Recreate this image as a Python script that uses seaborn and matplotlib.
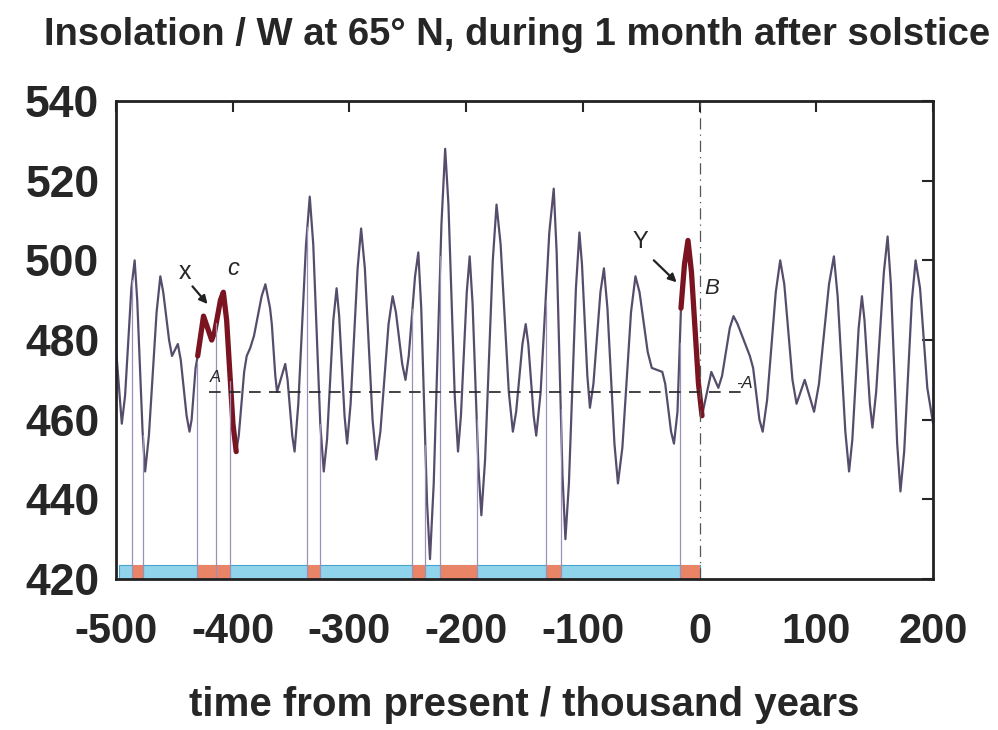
import numpy as np
import pandas as pd
import seaborn as sns
import matplotlib
matplotlib.use('Agg')
import matplotlib.pyplot as plt

# insolation curve (thousand years, W)
years = [-500, -495, -492.2, -486.8, -484, -481.8, -477.2, -475, -471.8, -465.2,
         -462, -459.5, -454.5, -452, -447, -444.5, -439.5, -437, -435.2, -431.8,
         -430, -427.5, -425, -418, -415.5, -410.5, -408, -405.2, -399.8, -397,
         -394.8, -390.2, -388, -385, -381.8, -375.2, -372, -368, -366.5, -363.5,
         -362, -355, -353, -349, -347, -343.8, -337.2, -334, -331, -325,
         -322, -319.2, -313.8, -311, -308.8, -304.2, -302, -299, -293, -290,
         -286.8, -280.2, -277, -273.5, -266.5, -263, -260.2, -254.8, -252, -249.2,
         -243.8, -241, -238.5, -233.5, -231, -227.8, -221.2, -218, -215.2, -209.8,
         -207, -204.5, -199.5, -197, -194.5, -189.5, -187, -183.8, -177.2, -174,
         -170.5, -163.5, -160, -157.2, -151.8, -149, -146.8, -142.2, -140, -136.2,
         -128.8, -125, -122.5, -117.5, -115, -112, -106, -103, -100.8, -96.2,
         -94, -91, -85, -82, -79, -73, -70, -66.2, -58.8, -55,
         -51.5, -44.5, -41, -32, -29.5, -24.5, -22, -19, -16, -13,
         -10, -7, -1, 2, 10, 16, 19.2, 25.8, 29, 32.5,
         43, 45.8, 51.2, 54, 57.8, 65.2, 69, 72.5, 79.5, 83,
         90, 98, 102.2, 110.8, 115, 118.2, 124.8, 128, 130.8, 136.2,
         139, 141.2, 145.8, 148, 151.2, 157.8, 161, 163.8, 169.2, 172,
         175.2, 181.8, 185, 188.8, 195, 200]
insol = [478, 459, 466, 493, 500, 490, 457, 447, 456, 487,
         496, 492, 480, 476, 479, 475, 461, 457, 460, 473,
         476, 481, 486, 480, 482, 490, 492, 485, 459, 452,
         456, 472, 476, 478, 481, 491, 494, 488, 484, 471,
         467, 474, 470, 456, 452, 464, 504, 516, 504, 459,
         447, 455, 485, 493, 486, 461, 454, 464, 498, 508,
         498, 460, 450, 457, 484, 491, 487, 474, 470, 476,
         496, 502, 488, 439, 425, 444, 509, 528, 514, 466,
         452, 461, 492, 501, 489, 448, 436, 450, 500, 514,
         504, 467, 457, 462, 479, 484, 479, 461, 456, 467,
         507, 518, 502, 446, 430, 444, 493, 507, 499, 471,
         463, 469, 492, 498, 488, 454, 444, 453, 487, 496,
         492, 477, 473, 472, 469, 457, 454, 462, 488, 499,
         505, 497, 469, 461, 472, 468, 471, 483, 486, 484,
         476, 473, 460, 457, 465, 492, 500, 494, 470, 464,
         470, 462, 469, 494, 501, 491, 457, 447, 455, 483,
         491, 485, 464, 458, 467, 497, 506, 494, 454, 442,
         452, 490, 500, 493, 468, 459]

# highlighted parts of the curve (X and Y)
red_ranges = [(-430, -397), (-16, 2)]

# bar along the bottom: blue span and orange segments
blue_span = (-497, 0)
orange_segs = [(-486, -477), (-431, -402), (-336, -325), (-246, -235),
               (-222, -191), (-132, -119), (-17, 0)]
link_lines = [-486, -477, -431, -414, -402, -336, -325, -246, -235, -222,
              -191, -132, -119, -17]

threshold = 467

df = pd.DataFrame({'year': years, 'W': insol})

sns.set_theme(style='white')
plt.rcParams['font.family'] = ['Liberation Sans', 'DejaVu Sans']
plt.rcParams['axes.unicode_minus'] = False

fig = plt.figure(figsize=(9.98, 7.30), dpi=100)
ax = fig.add_axes([0.1162, 0.2068, 0.8188, 0.6548])

sns.lineplot(data=df, x='year', y='W', color='#564d6c', lw=1.6, ax=ax)

for a, b in red_ranges:
    sub = df[(df.year > a) & (df.year < b)]
    xs = [a] + list(sub.year) + [b]
    ys = [np.interp(a, years, insol)] + list(sub.W) + [np.interp(b, years, insol)]
    ax.plot(xs, ys, color='#7a1420', lw=3.8, solid_capstyle='round')

# thin links from bar up to the curve
for bx in link_lines:
    ax.plot([bx, bx], [420, np.interp(bx, years, insol)], color='#9c90b8', lw=0.9)

ax.fill_between(blue_span, 420, 423.5, color='#8fd4ea', edgecolor='#4aa3cf', lw=0.8)
for a, b in orange_segs:
    ax.fill_between([a, b], 420, 423.5, color='#ea8466', lw=0)

ax.hlines(threshold, -420, 40, colors='#222222', linestyles=(0, (7, 5)), lw=1.2)
ax.axvline(0, color='#555555', lw=0.9, ls=(0, (9, 4, 1, 4)))

# hand annotations
ax.annotate('', xy=(-420, 488.5), xytext=(-436, 494),
            arrowprops=dict(arrowstyle='-|>', color='#222222', lw=1.6))
ax.text(-441, 497, 'x', fontsize=18, ha='center', va='center')
ax.text(-400, 498, 'c', fontsize=17, style='italic', ha='center', va='center')
ax.annotate('', xy=(-18, 494), xytext=(-41, 500.5),
            arrowprops=dict(arrowstyle='-|>', color='#222222', lw=1.6))
ax.text(-51, 504.5, 'Y', fontsize=17, ha='center', va='center')
ax.text(10, 493, 'B', fontsize=16, style='italic', ha='center', va='center')
ax.text(-415, 470.5, 'A', fontsize=12, style='italic', ha='center', va='center')
ax.text(38, 469, '-A', fontsize=12, style='italic', ha='center', va='center')

ax.set_xlim(-500, 200)
ax.set_ylim(420, 540)
ax.set_xticks(range(-500, 201, 100))
ax.set_yticks(range(420, 541, 20))
ax.tick_params(direction='in', length=8, width=1.5, top=True, right=True)
ax.tick_params(axis='x', pad=24, labelsize=30)
ax.tick_params(axis='y', pad=12, labelsize=32)
for lab in ax.get_xticklabels() + ax.get_yticklabels():
    lab.set_fontweight('bold')
for s in ax.spines.values():
    s.set_color('#222222')
    s.set_linewidth(2)

ax.set_xlabel('time from present / thousand years', fontsize=29,
              fontweight='bold', labelpad=24)
ax.set_ylabel('')
fig.text(0.518, 0.952, 'Insolation / W at 65° N, during 1 month after solstice',
         fontsize=27.5, fontweight='bold', ha='center', va='center')

fig.savefig('out.png', dpi=100)
